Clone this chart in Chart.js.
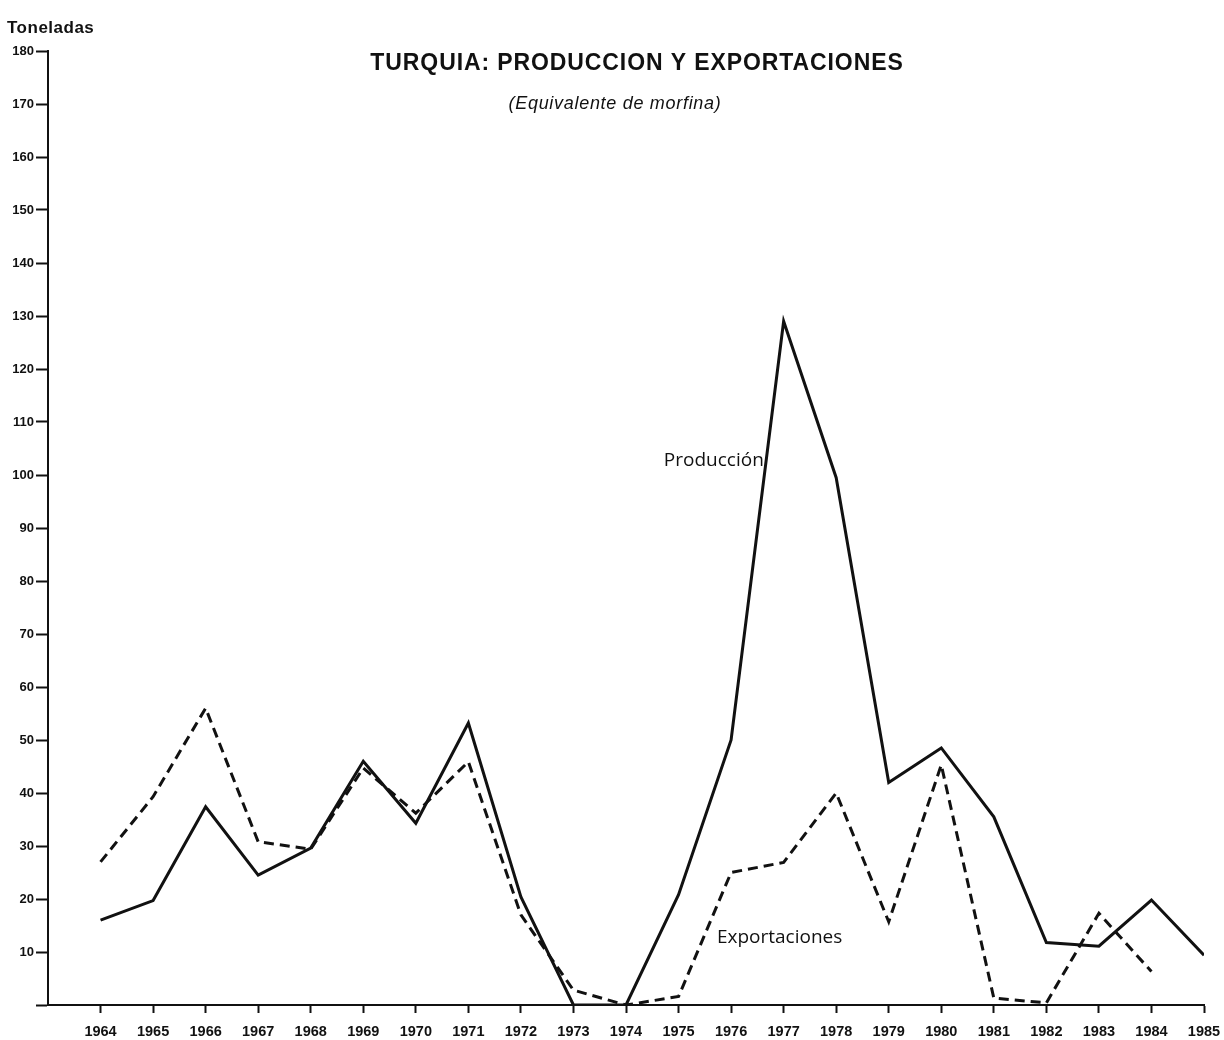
<!DOCTYPE html>
<html>
<head>
<meta charset="utf-8">
<script src="https://cdn.jsdelivr.net/npm/chart.js@4"></script>
<style>
  html, body { margin: 0; padding: 0; background: #fff; }
  #wrap { width: 1224px; height: 1040px; position: relative; }
</style>
</head>
<body>
<div id="wrap"><canvas id="chart"></canvas></div>
<script>
// years on the x axis
const years = [1964, 1965, 1966, 1967, 1968, 1969, 1970, 1971, 1972, 1973, 1974,
  1975, 1976, 1977, 1978, 1979, 1980, 1981, 1982, 1983, 1984, 1985];

// toneladas, equivalente de morfina
const produccion = [16, 19.7, 37.4, 24.5, 29.6, 46, 34.3, 53.2, 20.4, 0, 0,
  20.8, 50, 129, 99.5, 42, 48.5, 35.5, 11.8, 11.1, 19.8, 9.4];
const exportaciones = [27, 39.3, 56, 30.8, 29.4, 44.7, 36.2, 45.9, 17, 2.8, 0,
  1.6, 25, 26.9, 40, 15.7, 45.3, 1.3, 0.4, 17.3, 6.3, null];

const titleText = "TURQUIA: PRODUCCION Y EXPORTACIONES";
const subtitleText = "(Equivalente de morfina)";
const yAxisTitle = "Toneladas";

// series labels placed in data units (year, toneladas)
const seriesLabels = [
  { text: "Producción", x: 1974.72, y: 102.8 },
  { text: "Exportaciones", x: 1975.73, y: 12.8 },
];

const ink = "#111";
const sans = "'Liberation Sans', Arial, sans-serif";

const toPoints = (vals) => years.map((yr, i) => ({ x: yr, y: vals[i] }));

const textPlugin = {
  id: "figureText",
  afterDatasetsDraw(chart) {
    const { ctx, scales } = chart;
    ctx.save();
    ctx.fillStyle = ink;
    ctx.textBaseline = "middle";

    ctx.textAlign = "center";
    ctx.letterSpacing = "0.9px";
    ctx.font = `bold 23px ${sans}`;
    ctx.fillText(titleText, 637, 64);
    ctx.letterSpacing = "0.7px";
    ctx.font = `italic 18px ${sans}`;
    ctx.fillText(subtitleText, 615, 104);

    ctx.textAlign = "left";
    ctx.letterSpacing = "0.5px";
    ctx.font = `bold 17px ${sans}`;
    ctx.fillText(yAxisTitle, 7, 28);

    ctx.letterSpacing = "0px";
    ctx.font = "19px 'Open Sans', sans-serif";
    seriesLabels.forEach((l) => {
      ctx.fillText(l.text, scales.x.getPixelForValue(l.x), scales.y.getPixelForValue(l.y));
    });
    ctx.restore();
  },
};

new Chart(document.getElementById("chart"), {
  type: "line",
  data: {
    datasets: [
      {
        label: "Producción",
        data: toPoints(produccion),
        borderColor: ink,
        borderWidth: 3,
        pointRadius: 0,
        tension: 0,
      },
      {
        label: "Exportaciones",
        data: toPoints(exportaciones),
        borderColor: ink,
        borderWidth: 3,
        borderDash: [10, 6],
        pointRadius: 0,
        tension: 0,
        spanGaps: false,
      },
    ],
  },
  options: {
    responsive: true,
    maintainAspectRatio: false,
    animation: false,
    layout: { padding: { top: 51, right: 20, left: 0, bottom: 0 } },
    plugins: { legend: { display: false }, tooltip: { enabled: false }, title: { display: false } },
    scales: {
      x: {
        type: "linear",
        min: 1963,
        max: 1985,
        ticks: {
          stepSize: 1,
          color: ink,
          font: { family: sans, size: 14.5, weight: "bold" },
          padding: 10,
          maxRotation: 0,
          autoSkip: false,
          callback: (v) => (v === 1963 ? "" : String(v)),
        },
        grid: {
          drawOnChartArea: false,
          tickLength: 8,
          tickWidth: 2,
          color: (c) => (c.tick && c.tick.value === 1963 ? "rgba(0,0,0,0)" : ink),
        },
        border: { color: ink, width: 2 },
        afterFit: (s) => {
          s.height = 35;
          s.paddingLeft = 0;
          s.paddingRight = 0;
        },
      },
      y: {
        min: 0,
        max: 180,
        ticks: {
          stepSize: 10,
          color: ink,
          font: { family: sans, size: 13, weight: "bold" },
          padding: 2,
          callback: (v) => (v === 0 ? "" : String(v)),
        },
        grid: {
          drawOnChartArea: false,
          tickLength: 12,
          tickWidth: 2,
          color: ink,
        },
        border: { color: ink, width: 2 },
        afterFit: (s) => { s.width = 48; },
      },
    },
  },
  plugins: [textPlugin],
});
</script>
</body>
</html>
